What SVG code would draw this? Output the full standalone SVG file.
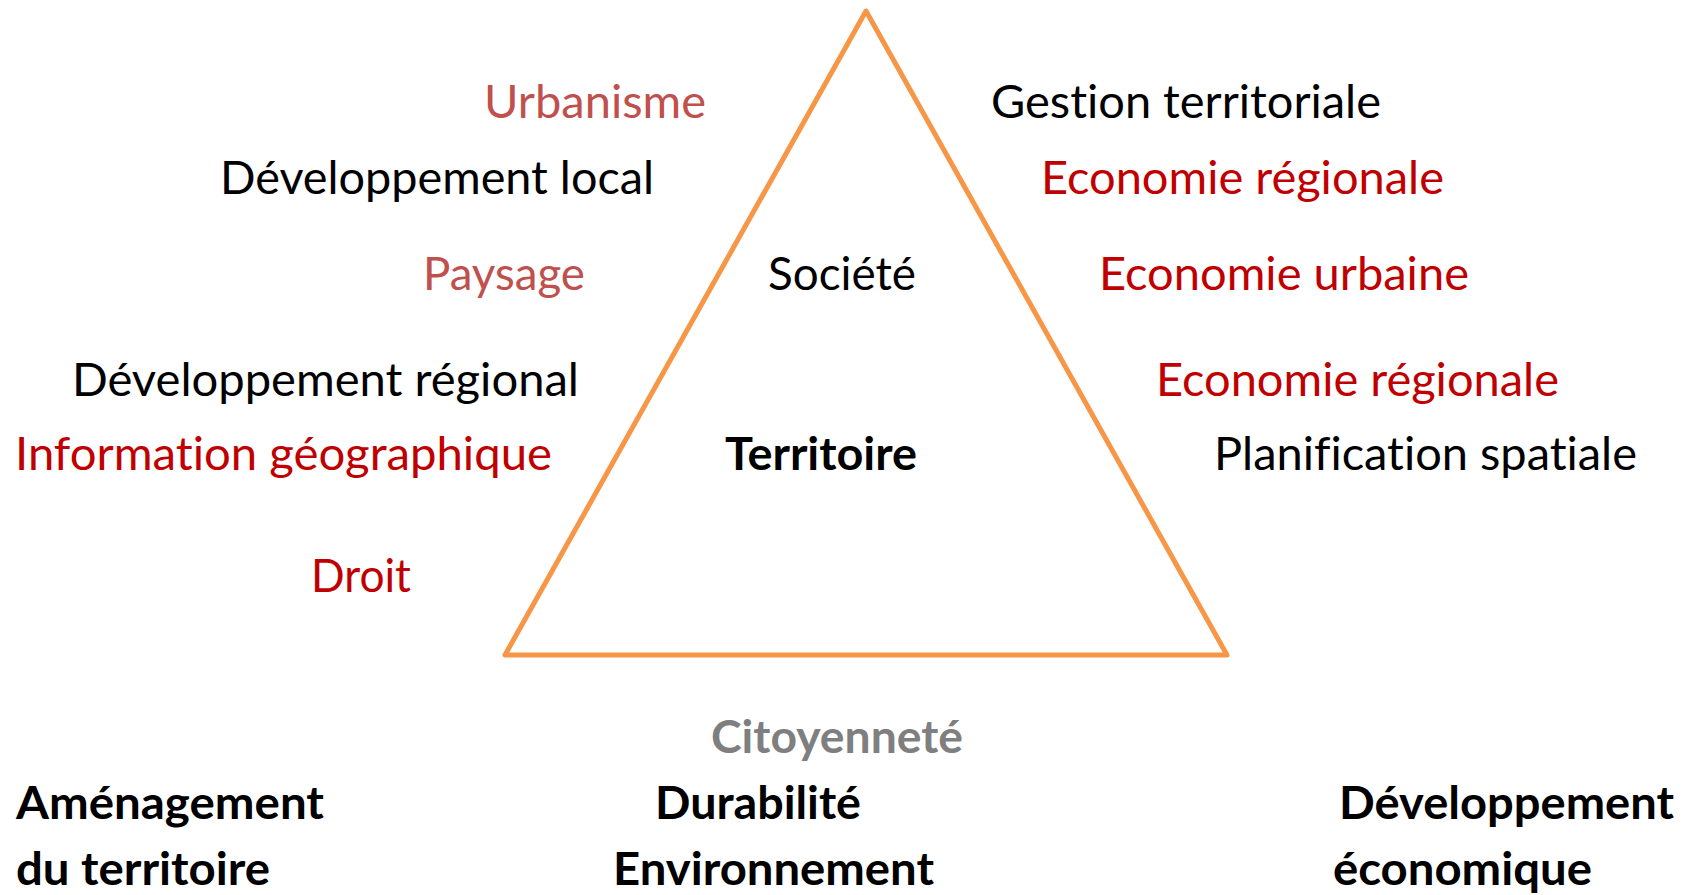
<svg xmlns="http://www.w3.org/2000/svg" width="1686" height="895" viewBox="0 0 1686 895">
<style>
text{font-family:Lato,"Liberation Sans",sans-serif;font-size:46px;font-variant-ligatures:none;font-feature-settings:"liga" 0,"clig" 0}
.k{fill:#000}
.r{fill:#C00000}
.p{fill:#C0504D}
.g{fill:#7F7F7F;font-weight:bold}
.b{font-weight:bold;fill:#000}
.tri{fill:none;stroke:#F79646;stroke-width:5;stroke-linejoin:round}
</style>
<rect width="1686" height="895" fill="#fff"/>
<g id="triangle"><polygon class="tri" points="866,11 505,655 1227,655"/></g>
<g id="connectors"></g>
<g id="left">
<text id="urbanisme" class="p" x="484" y="118" textLength="222" lengthAdjust="spacingAndGlyphs">Urbanisme</text>
<text id="dev-local" class="k" x="220" y="194" textLength="434" lengthAdjust="spacingAndGlyphs">Développement local</text>
<text id="paysage" class="p" x="423" y="290" textLength="162" lengthAdjust="spacingAndGlyphs">Paysage</text>
<text id="dev-regional" class="k" x="72" y="396" textLength="507" lengthAdjust="spacingAndGlyphs">Développement régional</text>
<text id="info-geo" class="r" x="15" y="470" textLength="537" lengthAdjust="spacingAndGlyphs">Information géographique</text>
<text id="droit" class="r" x="311" y="592" textLength="100" lengthAdjust="spacingAndGlyphs">Droit</text>
</g>
<g id="center">
<text id="societe" class="k" x="768" y="290" textLength="148" lengthAdjust="spacingAndGlyphs">Société</text>
<text id="territoire" class="b" x="725" y="470" textLength="192" lengthAdjust="spacingAndGlyphs">Territoire</text>
</g>
<g id="right">
<text id="gestion" class="k" x="991" y="118" textLength="390" lengthAdjust="spacingAndGlyphs">Gestion territoriale</text>
<text id="eco-reg1" class="r" x="1041" y="194" textLength="403" lengthAdjust="spacingAndGlyphs">Economie régionale</text>
<text id="eco-urb" class="r" x="1099" y="290" textLength="370" lengthAdjust="spacingAndGlyphs">Economie urbaine</text>
<text id="eco-reg2" class="r" x="1156" y="396" textLength="403" lengthAdjust="spacingAndGlyphs">Economie régionale</text>
<text id="planif" class="k" x="1214" y="470" textLength="423" lengthAdjust="spacingAndGlyphs">Planification spatiale</text>
</g>
<g id="bottom">
<text id="citoyennete" class="g" x="711" y="753" textLength="252" lengthAdjust="spacingAndGlyphs">Citoyenneté</text>
<text id="amenagement" class="b" x="16" y="819" textLength="308" lengthAdjust="spacingAndGlyphs">Aménagement</text>
<text id="du-territoire" class="b" x="16" y="885" textLength="254" lengthAdjust="spacingAndGlyphs">du territoire</text>
<text id="durabilite" class="b" x="655" y="819" textLength="206" lengthAdjust="spacingAndGlyphs">Durabilité</text>
<text id="environnement" class="b" x="613" y="885" textLength="321" lengthAdjust="spacingAndGlyphs">Environnement</text>
<text id="developpement" class="b" x="1339" y="819" textLength="335" lengthAdjust="spacingAndGlyphs">Développement</text>
<text id="economique" class="b" x="1333" y="885" textLength="259" lengthAdjust="spacingAndGlyphs">économique</text>
</g>
</svg>
